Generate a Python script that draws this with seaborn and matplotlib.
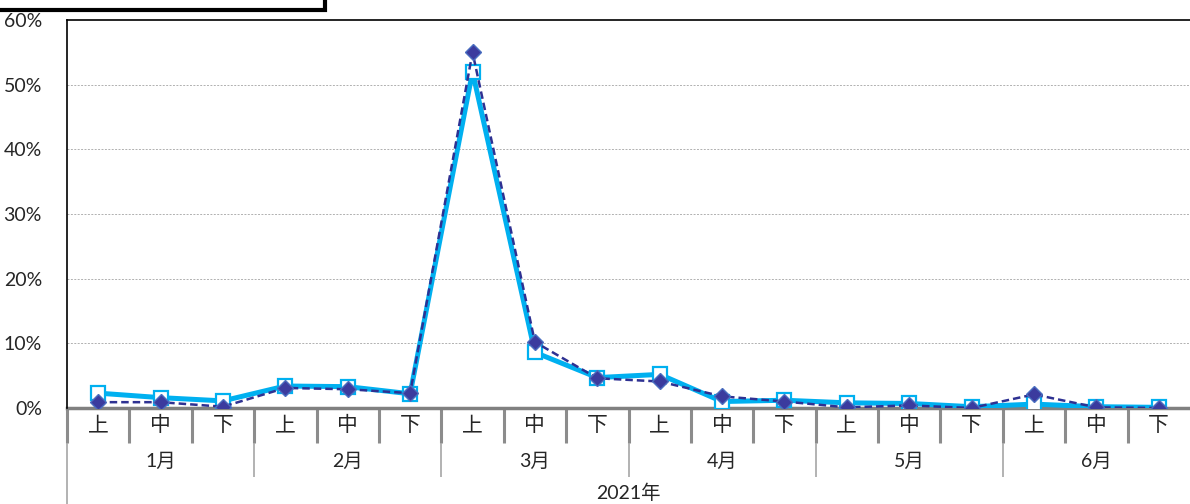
import numpy as np
import pandas as pd
import matplotlib
matplotlib.use("Agg")
import matplotlib.pyplot as plt
import matplotlib.patches as patches
import matplotlib.transforms as mtransforms
import seaborn as sns

# data
months = ["1月", "2月", "3月", "4月", "5月", "6月"]
parts = ["上", "中", "下"]
year_label = "2021年"
series_a = [2.3, 1.6, 1.1, 3.4, 3.3, 2.2, 52.0, 8.6, 4.7, 5.2, 1.0, 1.2, 0.8, 0.7, 0.2, 0.6, 0.2, 0.1]
series_b = [0.9, 0.9, 0.2, 3.1, 2.9, 2.3, 55.0, 10.2, 4.6, 4.1, 1.8, 1.0, 0.1, 0.4, 0.0, 2.1, 0.1, 0.0]
y_ticks = [0, 10, 20, 30, 40, 50, 60]

sns.set_style("white")
plt.rcParams["font.family"] = ["Lato", "Noto Sans CJK JP", "DejaVu Sans"]

n = len(series_a)
df = pd.DataFrame({"idx": np.arange(n), "a": series_a, "b": series_b})

fig = plt.figure(figsize=(11.9, 5.04), dpi=100)
ax = fig.add_axes([67 / 1190, 1 - 408 / 504, 1 - 67 / 1190, 388 / 504])

# light blue series
sns.lineplot(data=df, x="idx", y="a", ax=ax, color="#00B0F0", linewidth=3.6,
             marker="s", markersize=10.5, markerfacecolor="white",
             markeredgecolor="#00B0F0", markeredgewidth=1.6, zorder=3)
# dark dashed series
sns.lineplot(data=df, x="idx", y="b", ax=ax, color="#2E3192", linewidth=1.8,
             linestyle=(0, (3, 1.6)), marker="D", markersize=8.5,
             markerfacecolor="#3B3B9E", markeredgecolor="#4A6EC0",
             markeredgewidth=1.0, zorder=4)

ax.set_xlim(-0.5, n - 0.5)
ax.set_ylim(0, 60)
ax.set_yticks(y_ticks)
ax.set_yticklabels([f"{v}%" for v in y_ticks], fontsize=14)
ax.tick_params(axis="y", length=4, width=1, color="black", direction="out", pad=14)
ax.set_xticks([])
ax.set_xlabel("")
ax.set_ylabel("")

for v in y_ticks[1:-1]:
    ax.axhline(v, color="#B0B0B0", linewidth=0.7, linestyle=(0, (2, 1.5)), zorder=1)

ax.spines["right"].set_visible(False)
ax.spines["top"].set_color("black")
ax.spines["top"].set_linewidth(1.2)
ax.spines["left"].set_color("black")
ax.spines["left"].set_linewidth(1.2)
ax.spines["bottom"].set_color("#808080")
ax.spines["bottom"].set_linewidth(2.5)
ax.spines["bottom"].set_zorder(2)

# multilevel category axis
trans = mtransforms.blended_transform_factory(ax.transData, ax.transAxes)
lvl1 = -35 / 388
lvl2 = -69 / 388
lvl3 = -96 / 388
for i in range(n):
    ax.text(i, -17 / 388, parts[i % 3], transform=trans, ha="center", va="center",
            fontsize=15)
for i in range(1, n):
    x = i - 0.5
    ax.plot([x, x], [0, lvl1], transform=trans, color="#8C8C8C", lw=2.2,
            clip_on=False, solid_capstyle="butt")
    if i % 3 == 0:
        ax.plot([x, x], [lvl1, lvl2], transform=trans, color="#A6A6A6", lw=1.2,
                clip_on=False, solid_capstyle="butt")
for m, name in enumerate(months):
    ax.text(m * 3 + 1, -53 / 388, name, transform=trans, ha="center", va="center",
            fontsize=14)
ax.text((n - 1) / 2, -85 / 388, year_label, transform=trans, ha="center",
        va="center", fontsize=14)
# left axis extension below the plot
ax.plot([-0.5, -0.5], [0, lvl1], transform=trans, color="#8C8C8C", lw=2.2,
        clip_on=False, solid_capstyle="butt")
ax.plot([-0.5, -0.5], [lvl1, lvl3 - 0.05], transform=trans, color="#A6A6A6",
        lw=1.2, clip_on=False, solid_capstyle="butt")

# cut-off title box in the top-left corner
fig.patches.append(patches.Rectangle((-0.02, 1 - 9.5 / 504), 0.02 + 325 / 1190, 0.2,
                                     transform=fig.transFigure, fill=False,
                                     edgecolor="black", linewidth=3, clip_on=False))

fig.savefig("out.png", dpi=100)
